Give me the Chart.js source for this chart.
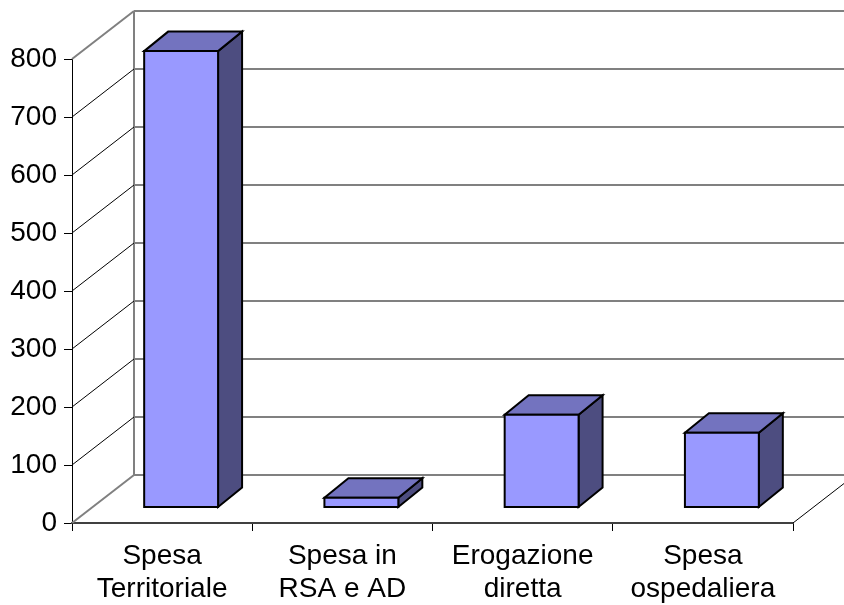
<!DOCTYPE html>
<html>
<head>
<meta charset="utf-8">
<script src="https://cdn.jsdelivr.net/npm/chart.js@4/dist/chart.umd.min.js"></script>
<style>
  html, body { margin: 0; padding: 0; background: #ffffff; }
  canvas { display: block; }
</style>
</head>
<body>
<canvas id="chart" width="844" height="605"></canvas>
<script>
// Categories (two-line labels) and spending values
const categories = [
  ['Spesa', 'Territoriale'],
  ['Spesa in', 'RSA e AD'],
  ['Erogazione', 'diretta'],
  ['Spesa', 'ospedaliera']
];
const values = [786, 16, 159, 128];
const yMin = 0;
const yMax = 800;
const yStep = 100;

// 3D look: wall depth, bar placement inside the depth, bar depth
const wallDepth = { x: 62, y: 48 };
const barShift = { x: 19, y: 16 };
const barDepth = { x: 24, y: 19.5 };
const barWidthRatio = 0.41;

const colFront = '#9999FF';
const colTop = '#7373BF';
const colSide = '#4D4D80';
const fontFamily = "'Liberation Sans', Arial, sans-serif";

const walls3d = {
  id: 'walls3d',
  beforeDatasetsDraw(chart) {
    const ctx = chart.ctx;
    const xs = chart.scales.x, ys = chart.scales.y;
    const left = chart.chartArea.left, right = chart.chartArea.right;
    const bottom = ys.getPixelForValue(yMin);
    const top = ys.getPixelForValue(yMax);
    ctx.save();
    // back wall gridlines
    ctx.strokeStyle = '#808080';
    ctx.lineWidth = 2;
    for (let v = yMin; v <= yMax; v += yStep) {
      const y = ys.getPixelForValue(v) - wallDepth.y;
      ctx.beginPath();
      ctx.moveTo(left + wallDepth.x, y);
      ctx.lineTo(right + wallDepth.x + 10, y);
      ctx.stroke();
    }
    // back wall left edge
    ctx.beginPath();
    ctx.moveTo(left + wallDepth.x, top - wallDepth.y);
    ctx.lineTo(left + wallDepth.x, bottom - wallDepth.y);
    ctx.stroke();
    // side wall lines
    for (let v = yMin; v <= yMax; v += yStep) {
      const y = ys.getPixelForValue(v);
      const edge = (v === yMin || v === yMax);
      ctx.strokeStyle = edge ? '#808080' : '#000000';
      ctx.lineWidth = edge ? 2 : 1;
      ctx.beginPath();
      ctx.moveTo(left, y);
      ctx.lineTo(left + wallDepth.x, y - wallDepth.y);
      ctx.stroke();
    }
    // floor right edge
    ctx.strokeStyle = '#000000';
    ctx.lineWidth = 1;
    ctx.beginPath();
    ctx.moveTo(right, bottom);
    ctx.lineTo(right + wallDepth.x, bottom - wallDepth.y);
    ctx.stroke();
    ctx.restore();
  },
  afterDatasetsDraw(chart) {
    const ctx = chart.ctx;
    const xs = chart.scales.x, ys = chart.scales.y;
    const data = chart.data.datasets[0].data;
    const catWidth = (chart.chartArea.right - chart.chartArea.left) / data.length;
    const bw = catWidth * barWidthRatio;
    ctx.save();
    ctx.lineWidth = 2;
    ctx.lineJoin = 'miter';
    ctx.strokeStyle = '#000000';
    data.forEach((v, i) => {
      const cx = xs.getPixelForValue(i) + barShift.x;
      const L = cx - bw / 2, R = cx + bw / 2;
      const yb = ys.getPixelForValue(0) - barShift.y;
      const yt = ys.getPixelForValue(v) - barShift.y;
      const dx = barDepth.x, dy = barDepth.y;
      // side face
      ctx.fillStyle = colSide;
      ctx.beginPath();
      ctx.moveTo(R, yt); ctx.lineTo(R + dx, yt - dy);
      ctx.lineTo(R + dx, yb - dy); ctx.lineTo(R, yb);
      ctx.closePath(); ctx.fill(); ctx.stroke();
      // top face
      ctx.fillStyle = colTop;
      ctx.beginPath();
      ctx.moveTo(L, yt); ctx.lineTo(R, yt);
      ctx.lineTo(R + dx, yt - dy); ctx.lineTo(L + dx, yt - dy);
      ctx.closePath(); ctx.fill(); ctx.stroke();
      // front face
      ctx.fillStyle = colFront;
      ctx.beginPath();
      ctx.rect(L, yt, R - L, yb - yt);
      ctx.fill(); ctx.stroke();
    });
    ctx.restore();
  }
};

new Chart(document.getElementById('chart'), {
  type: 'bar',
  data: {
    labels: categories,
    datasets: [{
      data: values,
      backgroundColor: 'rgba(0,0,0,0)',
      borderWidth: 0
    }]
  },
  options: {
    responsive: false,
    animation: false,
    layout: { padding: { top: 59, right: 51, left: 0, bottom: 0 } },
    plugins: { legend: { display: false }, tooltip: { enabled: false } },
    scales: {
      x: {
        offset: true,
        grid: { drawOnChartArea: false, drawTicks: true, tickLength: 8, color: '#000000', lineWidth: 1, offset: true },
        border: { display: true, color: '#404040', width: 2 },
        ticks: { color: '#000000', font: { family: fontFamily, size: 28 }, padding: 8, maxRotation: 0, autoSkip: false },
        afterFit(scale) { scale.height = 82; }
      },
      y: {
        min: yMin,
        max: yMax,
        grid: { drawOnChartArea: false, drawTicks: true, tickLength: 8, color: '#000000', lineWidth: 1 },
        border: { display: true, color: '#000000', width: 1 },
        ticks: { stepSize: yStep, color: '#000000', font: { family: fontFamily, size: 28 }, padding: 7 },
        afterFit(scale) { scale.width = 72; }
      }
    }
  },
  plugins: [walls3d]
});
</script>
</body>
</html>
